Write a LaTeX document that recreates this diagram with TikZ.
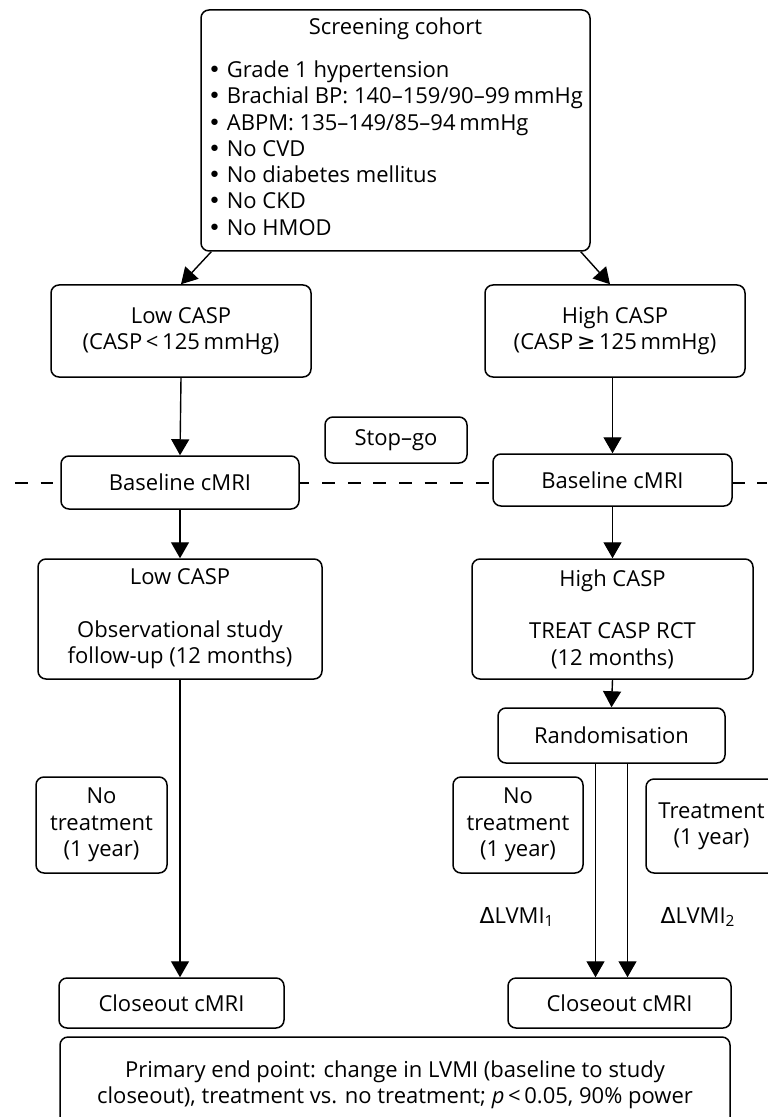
\documentclass[tikz,border=0pt]{standalone}
\usepackage{fontspec}
\setmainfont{Open Sans}
\newfontfamily\symfont{DejaVu Sans}
\newcommand{\bul}{{\symfont •}}
\usetikzlibrary{arrows.meta}

\begin{document}
\begin{tikzpicture}[x=0.5pt,y=-0.5pt,font=\fontsize{11}{13.15}\selectfont,
	box/.style={draw,line width=0.75pt,rounded corners=4pt,fill=white,align=center,inner sep=2pt},
	arr/.style={line width=0.7pt,-{Triangle[width=9pt,length=8pt]}}]
		\useasboundingbox (0,0) rectangle (767,1117);
		\draw[line width=0.7pt,dash pattern=on 6.4pt off 6.4pt] (15,483) -- (767,483);

		\node at (395.5,130.5) [box,minimum width=194.5pt,minimum height=120.5pt] (screen) {Screening cohort\\[8.3pt]\begin{tabular}[t]{@{}l@{}}
			\bul{} Grade 1 hypertension\\
			\bul{} Brachial BP: 140–159/90–99\,mmHg\\
			\bul{} ABPM: 135–149/85–94\,mmHg\\
			\bul{} No CVD\\
			\bul{} No diabetes mellitus\\
			\bul{} No CKD\\
			\bul{} No HMOD\end{tabular}};

		\node at (181,331) [box,minimum width=130pt,minimum height=46pt] (lowA) {Low CASP\\(CASP\,<\,125\,mmHg)};
		\node at (615,331) [box,minimum width=130pt,minimum height=46pt] (highA) {High CASP\\(CASP\,{\symfont ≥}\,125\,mmHg)};
		\node at (396,440) [box,minimum width=71pt,minimum height=23pt] (stopgo) {Stop–go};
		\node at (180,482.5) [box,minimum width=119pt,minimum height=26.5pt] (baseL) {Baseline cMRI};
		\node at (612.5,480) [box,minimum width=119.5pt,minimum height=26pt] (baseR) {Baseline cMRI};

		\node at (180,619) [box,minimum width=142pt,minimum height=60pt] (lowB) {Low CASP\\[13.2pt]Observational study\\follow-up (12 months)};
		\node at (612.5,619) [box,minimum width=140.5pt,minimum height=60pt] (highB) {High CASP\\[13.2pt]TREAT CASP RCT\\(12 months)};
		\node at (611.5,735.5) [box,minimum width=113.5pt,minimum height=27.5pt] (rand) {Randomisation};

		\node at (101.5,825) [box,minimum width=65.5pt,minimum height=48pt] (notrL) {No\\treatment\\(1 year)};
		\node at (518,825) [box,minimum width=65pt,minimum height=48pt] (notrR) {No\\treatment\\(1 year)};
		\node at (711.5,826) [box,minimum width=65.5pt,minimum height=47pt] (treat) {Treatment\\(1 year)};
		\node at (517,917) (dL) {{\symfont Δ}LVMI\textsubscript{1}};
		\node at (698,917) (dR) {{\symfont Δ}LVMI\textsubscript{2}};

		\node at (171.5,1003) [box,minimum width=112.5pt,minimum height=25pt] (closeL) {Closeout cMRI};
		\node at (619.5,1003) [box,minimum width=111.5pt,minimum height=25pt] (closeR) {Closeout cMRI};
		\node at (395,1084.5) [box,minimum width=335pt,minimum height=47.5pt] (prim) {Primary end point: change in LVMI (baseline to study\\closeout), treatment vs. no treatment; \textit{p}\,<\,0.05, 90\% power};

		\draw[arr] ([xshift=5.5pt]screen.south west) -- (lowA.north);
		\draw[arr] ([xshift=-5pt]screen.south east) -- ([xshift=-2.5pt]highA.north);
		\draw[arr] (lowA.south) -- (baseL.north);
		\draw[arr] (baseR.north |- highA.south) -- (baseR.north);
		\draw[arr] (baseL.south) -- (lowB.north);
		\draw[arr] (baseR.south) -- (highB.north);
		\draw[arr] (highB.south) -- (rand.north);
		\draw[arr] (lowB.south) -- (lowB.south |- closeL.north);
		\draw[arr] ([xshift=-8pt]rand.south) -- ([xshift=-8pt]rand.south |- closeR.north);
		\draw[arr] ([xshift=8pt]rand.south) -- ([xshift=8pt]rand.south |- closeR.north);
	\end{tikzpicture}
\end{document}
